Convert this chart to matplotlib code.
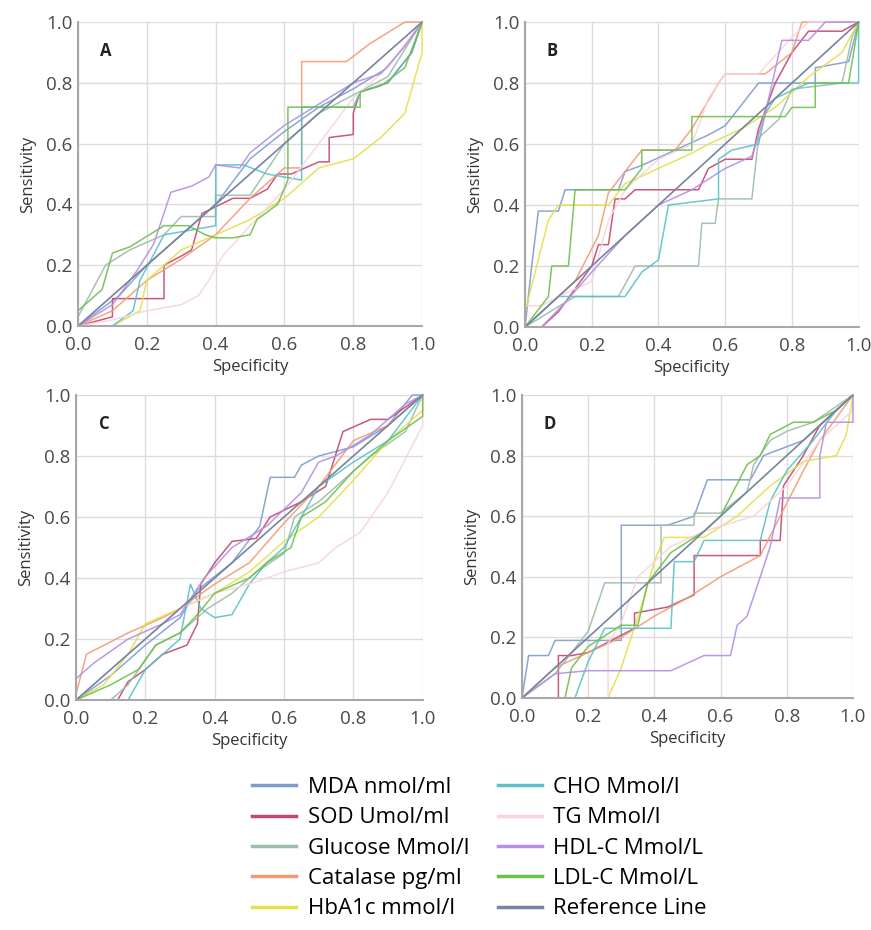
import matplotlib.pyplot as plt
from matplotlib.lines import Line2D

plt.rcParams["font.family"] = ["Open Sans", "DejaVu Sans"]

# Reihen (Legende) und Farben
LABELS = ["MDA nmol/ml", "SOD Umol/ml", "Glucose Mmol/l", "Catalase pg/ml",
          "HbA1c mmol/l", "CHO Mmol/l", "TG Mmol/l", "HDL-C Mmol/L",
          "LDL-C Mmol/L"]
REF_LABEL = "Reference Line"
COLORS = ["#7f9cd0", "#c4466e", "#9dbcaa", "#f29a76", "#e4df4c",
          "#58c2c6", "#f8d4dc", "#b48fe2", "#6fbf4c"]
REF_COLOR = "#76849f"

TICKS = [0.0, 0.2, 0.4, 0.6, 0.8, 1.0]
PANEL_LETTERS = ["A", "B", "C", "D"]

# ---- Panel A (Punkte: Specificity, Sensitivity) ----
A_MDA = [(0, 0), (0.12, 0.1), (0.2, 0.2), (0.3, 0.3), (0.4, 0.4), (0.5, 0.55),
         (0.6, 0.64), (0.7, 0.72), (0.8, 0.78), (0.9, 0.85), (1, 1)]
A_SOD = [(0, 0), (0.1, 0.03), (0.1, 0.09), (0.25, 0.09), (0.25, 0.2), (0.3, 0.23),
         (0.33, 0.25), (0.36, 0.37), (0.45, 0.42), (0.5, 0.42), (0.55, 0.45),
         (0.58, 0.5), (0.62, 0.5), (0.7, 0.54), (0.73, 0.54), (0.73, 0.62),
         (0.8, 0.63), (0.8, 0.7), (0.82, 0.77), (0.9, 0.8), (0.97, 0.9), (1, 1)]
A_GLU = [(0, 0.03), (0.08, 0.2), (0.15, 0.25), (0.25, 0.3), (0.3, 0.36),
         (0.4, 0.36), (0.4, 0.43), (0.5, 0.43), (0.6, 0.6), (0.7, 0.7),
         (0.8, 0.76), (0.9, 0.82), (1, 1)]
A_CAT = [(0, 0), (0.1, 0.05), (0.2, 0.15), (0.3, 0.22), (0.4, 0.3), (0.5, 0.42),
         (0.6, 0.52), (0.65, 0.52), (0.65, 0.87), (0.78, 0.87), (0.85, 0.93),
         (0.95, 1.0), (1, 1)]
A_HBA = [(0, 0), (0.1, 0.0), (0.18, 0.05), (0.2, 0.15), (0.3, 0.25), (0.4, 0.3),
         (0.5, 0.35), (0.6, 0.42), (0.7, 0.52), (0.8, 0.55), (0.88, 0.62),
         (0.95, 0.7), (1, 0.9), (1, 1)]
A_CHO = [(0, 0), (0.1, 0.0), (0.16, 0.05), (0.18, 0.15), (0.25, 0.3), (0.4, 0.33),
         (0.4, 0.53), (0.48, 0.53), (0.55, 0.5), (0.65, 0.48), (0.65, 0.72),
         (0.8, 0.72), (0.82, 0.77), (0.9, 0.8), (0.97, 0.9), (1, 1)]
A_TG = [(0, 0), (0.1, 0.02), (0.2, 0.05), (0.3, 0.07), (0.35, 0.1), (0.38, 0.15),
        (0.42, 0.23), (0.5, 0.33), (0.6, 0.45), (0.7, 0.6), (0.8, 0.75),
        (0.9, 0.85), (1, 1)]
A_HDL = [(0, 0), (0.1, 0.07), (0.17, 0.18), (0.22, 0.27), (0.27, 0.44),
         (0.33, 0.46), (0.38, 0.49), (0.4, 0.53), (0.47, 0.52), (0.5, 0.57),
         (0.6, 0.66), (0.7, 0.73), (0.8, 0.8), (0.88, 0.83), (0.95, 0.92), (1, 1)]
A_LDL = [(0, 0.05), (0.07, 0.12), (0.1, 0.24), (0.15, 0.26), (0.25, 0.33),
         (0.32, 0.33), (0.37, 0.3), (0.4, 0.29), (0.45, 0.29), (0.5, 0.3),
         (0.52, 0.35), (0.58, 0.4), (0.61, 0.48), (0.61, 0.72), (0.82, 0.72),
         (0.82, 0.77), (0.88, 0.79), (0.95, 0.85), (1, 1)]

# ---- Panel B ----
B_MDA = [(0, 0), (0.02, 0.2), (0.04, 0.38), (0.1, 0.38), (0.12, 0.45), (0.28, 0.45),
         (0.3, 0.51), (0.35, 0.53), (0.45, 0.58), (0.55, 0.63), (0.6, 0.66),
         (0.7, 0.8), (0.87, 0.8), (0.87, 0.85), (0.97, 0.87), (1, 1)]
B_SOD = [(0, 0), (0.05, 0.0), (0.1, 0.05), (0.2, 0.2), (0.22, 0.27), (0.25, 0.27),
         (0.27, 0.42), (0.3, 0.42), (0.33, 0.45), (0.52, 0.45), (0.55, 0.52),
         (0.6, 0.55), (0.68, 0.55), (0.7, 0.65), (0.75, 0.8), (0.8, 0.9),
         (0.85, 0.97), (0.95, 0.97), (1, 1)]
B_GLU = [(0, 0), (0.15, 0.1), (0.28, 0.1), (0.33, 0.2), (0.52, 0.2), (0.53, 0.34),
         (0.57, 0.34), (0.58, 0.42), (0.68, 0.42), (0.7, 0.62), (0.76, 0.68),
         (0.8, 0.78), (0.95, 0.8), (0.98, 0.95), (1, 1)]
B_CAT = [(0, 0), (0.05, 0.05), (0.15, 0.15), (0.22, 0.3), (0.25, 0.44),
         (0.35, 0.58), (0.45, 0.58), (0.5, 0.65), (0.58, 0.8), (0.6, 0.83),
         (0.72, 0.83), (0.8, 0.9), (0.83, 1.0), (1, 1)]
B_HBA = [(0, 0.05), (0.07, 0.35), (0.1, 0.4), (0.25, 0.4), (0.3, 0.47), (0.4, 0.52),
         (0.5, 0.57), (0.55, 0.6), (0.65, 0.65), (0.75, 0.72), (0.85, 0.82),
         (0.95, 0.9), (1, 1)]
B_CHO = [(0, 0), (0.1, 0.1), (0.3, 0.1), (0.35, 0.18), (0.4, 0.22), (0.43, 0.4),
         (0.58, 0.42), (0.58, 0.55), (0.62, 0.58), (0.7, 0.6), (0.72, 0.7),
         (0.75, 0.75), (0.85, 0.8), (1, 0.8), (1, 1)]
B_TG = [(0, 0.07), (0.05, 0.07), (0.1, 0.1), (0.2, 0.15), (0.25, 0.35), (0.3, 0.45),
        (0.4, 0.55), (0.5, 0.6), (0.55, 0.75), (0.6, 0.83), (0.7, 0.83),
        (0.8, 0.95), (0.85, 1.0), (1, 1)]
B_HDL = [(0, 0), (0.05, 0), (0.12, 0.08), (0.2, 0.18), (0.3, 0.3), (0.4, 0.4),
         (0.5, 0.45), (0.6, 0.52), (0.68, 0.56), (0.72, 0.7), (0.77, 0.94),
         (0.85, 0.94), (0.9, 1.0), (1, 1)]
B_LDL = [(0, 0), (0.07, 0.1), (0.08, 0.2), (0.13, 0.2), (0.15, 0.45), (0.3, 0.45),
         (0.35, 0.52), (0.35, 0.58), (0.5, 0.58), (0.5, 0.69), (0.78, 0.69),
         (0.8, 0.72), (0.87, 0.72), (0.87, 0.8), (0.97, 0.8), (1, 1)]

# ---- Panel C ----
C_MDA = [(0, 0), (0.1, 0.08), (0.2, 0.18), (0.3, 0.27), (0.35, 0.36), (0.45, 0.45),
         (0.53, 0.57), (0.56, 0.73), (0.63, 0.73), (0.65, 0.77), (0.7, 0.8),
         (0.8, 0.83), (0.9, 0.9), (0.97, 1.0), (1, 1)]
C_SOD = [(0, 0), (0.12, 0.0), (0.15, 0.06), (0.2, 0.1), (0.25, 0.15), (0.32, 0.18),
         (0.35, 0.25), (0.36, 0.38), (0.4, 0.45), (0.45, 0.52), (0.52, 0.53),
         (0.56, 0.6), (0.65, 0.65), (0.72, 0.7), (0.77, 0.88), (0.85, 0.92),
         (0.9, 0.92), (1, 1)]
C_GLU = [(0, 0), (0.1, 0.0), (0.15, 0.05), (0.23, 0.18), (0.3, 0.22), (0.38, 0.3),
         (0.45, 0.35), (0.52, 0.42), (0.6, 0.48), (0.63, 0.6), (0.7, 0.65),
         (0.75, 0.7), (0.85, 0.8), (0.95, 0.88), (1, 1)]
C_CAT = [(0, 0.02), (0.03, 0.15), (0.15, 0.22), (0.25, 0.27), (0.3, 0.3),
         (0.4, 0.38), (0.5, 0.45), (0.6, 0.58), (0.7, 0.7), (0.8, 0.85),
         (0.9, 0.9), (1, 1)]
C_HBA = [(0, 0), (0.08, 0.05), (0.15, 0.15), (0.2, 0.25), (0.3, 0.3), (0.4, 0.35),
         (0.5, 0.42), (0.6, 0.52), (0.7, 0.6), (0.8, 0.72), (0.9, 0.85),
         (1, 0.95), (1, 1)]
C_CHO = [(0, 0), (0.15, 0.0), (0.2, 0.1), (0.3, 0.2), (0.33, 0.38), (0.36, 0.3),
         (0.4, 0.27), (0.45, 0.28), (0.5, 0.38), (0.55, 0.45), (0.6, 0.5),
         (0.65, 0.6), (0.7, 0.7), (0.8, 0.78), (0.9, 0.85), (1, 1)]
C_TG = [(0, 0), (0.1, 0.1), (0.2, 0.2), (0.3, 0.3), (0.4, 0.35), (0.5, 0.38),
        (0.6, 0.42), (0.7, 0.45), (0.75, 0.5), (0.82, 0.55), (0.9, 0.68),
        (1, 0.9), (1, 1)]
C_HDL = [(0, 0.07), (0.05, 0.12), (0.15, 0.2), (0.25, 0.25), (0.3, 0.28),
         (0.37, 0.4), (0.45, 0.5), (0.55, 0.57), (0.65, 0.68), (0.7, 0.78),
         (0.75, 0.8), (0.85, 0.87), (0.95, 0.97), (1, 1)]
C_LDL = [(0, 0), (0.1, 0.05), (0.18, 0.1), (0.23, 0.18), (0.3, 0.22), (0.35, 0.28),
         (0.4, 0.35), (0.5, 0.4), (0.55, 0.45), (0.62, 0.5), (0.65, 0.6),
         (0.72, 0.65), (0.8, 0.75), (0.9, 0.85), (1, 0.93), (1, 1)]

# ---- Panel D ----
D_MDA = [(0, 0), (0.02, 0.14), (0.08, 0.14), (0.1, 0.19), (0.3, 0.19), (0.3, 0.57),
         (0.44, 0.57), (0.52, 0.6), (0.56, 0.72), (0.69, 0.72), (0.73, 0.8),
         (0.85, 0.85), (0.92, 0.92), (1, 1)]
D_SOD = [(0, 0), (0.11, 0), (0.11, 0.14), (0.15, 0.14), (0.2, 0.15), (0.34, 0.23),
         (0.34, 0.28), (0.44, 0.3), (0.52, 0.34), (0.52, 0.47), (0.72, 0.47),
         (0.72, 0.52), (0.78, 0.52), (0.79, 0.7), (0.85, 0.8), (0.9, 0.9), (1, 1)]
D_GLU = [(0, 0), (0.1, 0.08), (0.2, 0.22), (0.25, 0.38), (0.42, 0.38), (0.42, 0.57),
         (0.52, 0.57), (0.52, 0.61), (0.6, 0.61), (0.68, 0.68), (0.7, 0.77),
         (0.75, 0.85), (0.8, 0.88), (0.88, 0.91), (1, 1)]
D_CAT = [(0, 0), (0.1, 0.1), (0.2, 0.15), (0.3, 0.2), (0.4, 0.27), (0.5, 0.33),
         (0.6, 0.4), (0.72, 0.47), (0.78, 0.6), (0.85, 0.75), (0.9, 0.85), (1, 1)]
D_HBA = [(0, 0), (0.26, 0), (0.3, 0.1), (0.36, 0.3), (0.4, 0.45), (0.43, 0.53),
         (0.55, 0.53), (0.65, 0.6), (0.75, 0.7), (0.85, 0.78), (0.95, 0.8),
         (0.98, 0.87), (1, 1)]
D_CHO = [(0, 0), (0.16, 0), (0.2, 0.12), (0.25, 0.23), (0.45, 0.23), (0.46, 0.45),
         (0.52, 0.45), (0.55, 0.52), (0.72, 0.52), (0.75, 0.65), (0.8, 0.75),
         (0.88, 0.85), (0.95, 0.95), (1, 1)]
D_TG = [(0, 0), (0.26, 0), (0.26, 0.18), (0.3, 0.25), (0.35, 0.4), (0.45, 0.5),
        (0.55, 0.55), (0.7, 0.6), (0.8, 0.7), (0.9, 0.85), (1, 0.95), (1, 1)]
D_HDL = [(0, 0), (0.1, 0.08), (0.2, 0.09), (0.45, 0.09), (0.55, 0.14), (0.63, 0.14),
         (0.65, 0.24), (0.68, 0.27), (0.72, 0.4), (0.75, 0.5), (0.78, 0.66),
         (0.9, 0.66), (0.9, 0.8), (0.92, 0.91), (1, 0.91), (1, 1)]
D_LDL = [(0, 0), (0.13, 0), (0.15, 0.1), (0.2, 0.17), (0.3, 0.24), (0.35, 0.24),
         (0.38, 0.38), (0.45, 0.48), (0.55, 0.55), (0.6, 0.6), (0.68, 0.77),
         (0.72, 0.8), (0.75, 0.87), (0.82, 0.91), (0.88, 0.91), (0.95, 0.95), (1, 1)]

REF_LINE = [(0, 0), (1, 1)]

PANELS = [
    [A_MDA, A_SOD, A_GLU, A_CAT, A_HBA, A_CHO, A_TG, A_HDL, A_LDL],
    [B_MDA, B_SOD, B_GLU, B_CAT, B_HBA, B_CHO, B_TG, B_HDL, B_LDL],
    [C_MDA, C_SOD, C_GLU, C_CAT, C_HBA, C_CHO, C_TG, C_HDL, C_LDL],
    [D_MDA, D_SOD, D_GLU, D_CAT, D_HBA, D_CHO, D_TG, D_HDL, D_LDL],
]

# Achsen-Positionen (figure fraction)
AX_RECTS = [
    (0.0896, 0.6495, 0.395, 0.3268),
    (0.6028, 0.6484, 0.383, 0.3279),
    (0.0873, 0.2473, 0.398, 0.3280),
    (0.5993, 0.2495, 0.380, 0.3258),
]


def draw_panel(ax, series, letter):
    for pts, color in zip(series, COLORS):
        xs = [p[0] for p in pts]
        ys = [p[1] for p in pts]
        ax.plot(xs, ys, color=color, lw=1.1, alpha=0.9, clip_on=False)
    ax.plot([p[0] for p in REF_LINE], [p[1] for p in REF_LINE],
            color=REF_COLOR, lw=1.2)

    ax.set_xlim(0, 1)
    ax.set_ylim(0, 1)
    ax.set_xticks(TICKS)
    ax.set_yticks(TICKS)
    ax.set_xticklabels([f"{t:.1f}" for t in TICKS])
    ax.set_yticklabels([f"{t:.1f}" for t in TICKS])
    ax.tick_params(length=0, labelsize=13.5, labelcolor="#4a4a4a")
    ax.tick_params(axis="x", pad=7)
    ax.tick_params(axis="y", pad=4)
    ax.grid(True, color="#dcdcdc", lw=1.0)
    ax.set_axisbelow(True)
    for side in ["top", "right"]:
        ax.spines[side].set_visible(False)
    for side in ["left", "bottom"]:
        ax.spines[side].set_color("#a8a8a8")
        ax.spines[side].set_linewidth(1.5)

    ax.set_xlabel("Specificity", fontsize=12, color="#333333", labelpad=4)
    ax.set_ylabel("Sensitivity", fontsize=12, color="#333333", labelpad=7)
    ax.text(0.065, 0.905, letter, transform=ax.transAxes, fontsize=12,
            fontweight="bold", color="#222222", va="center", ha="left")


def main():
    fig = plt.figure(figsize=(8.71, 9.30), dpi=100)

    for rect, series, letter in zip(AX_RECTS, PANELS, PANEL_LETTERS):
        ax = fig.add_axes(rect)
        draw_panel(ax, series, letter)

    handles = [Line2D([], [], color=c, lw=2.5) for c in COLORS]
    handles.append(Line2D([], [], color=REF_COLOR, lw=2.5))
    labels = LABELS + [REF_LABEL]

    fig.legend(
        handles,
        labels,
        ncol=2,
        loc="upper left",
        bbox_to_anchor=(252 / 871, 1 - 777 / 930),
        frameon=False,
        fontsize=16,
        handlelength=2.0,
        handletextpad=0.5,
        columnspacing=1.3,
        labelspacing=0.42,
        borderpad=0,
        borderaxespad=0,
    )

    fig.savefig("out.png", dpi=100)
    plt.close(fig)


if __name__ == "__main__":
    main()
